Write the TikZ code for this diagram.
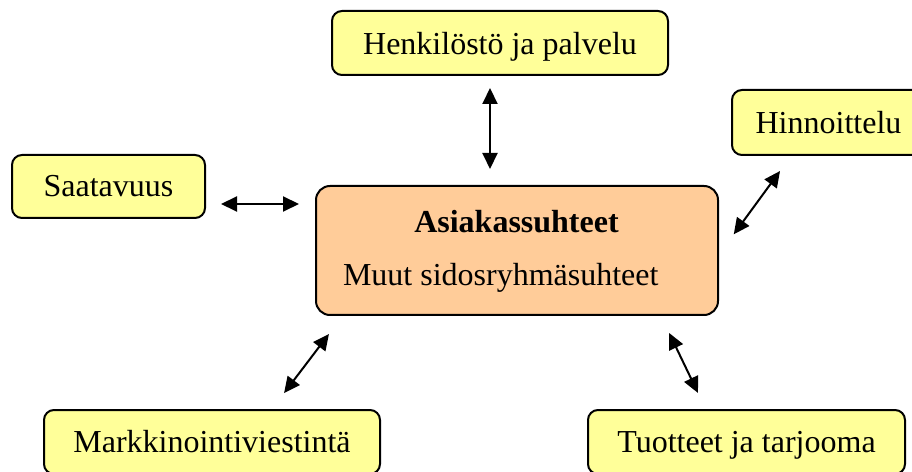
\documentclass[tikz,border=0pt]{standalone}
\usepackage{fontspec}
\setmainfont{Liberation Serif}
\usetikzlibrary{arrows.meta,calc}
\definecolor{gelb}{RGB}{255,255,153}
\definecolor{pfir}{RGB}{255,204,153}

\begin{document}
\begin{tikzpicture}[x=1pt,y=1pt,line width=2pt]
	\tikzstyle{kasti}=[draw,rounded corners=10pt,fill=gelb,inner sep=0pt,font=\fontsize{32}{38}\selectfont];
	\tikzstyle{keski}=[kasti,fill=pfir,rounded corners=14pt];
	\tikzstyle{teksti}=[inner sep=0pt,font=\fontsize{32}{38}\selectfont];
	\tikzstyle{nuoli}=[{Triangle[length=16pt,width=15pt]}-{Triangle[length=16pt,width=15pt]}];
%<--------------------------------------------------------------------------->%

	\useasboundingbox (0,0) rectangle (912,471);
	\clip (0,0) rectangle (912,471);
	%% Boxes
	\node[keski,minimum width=402pt,minimum height=129pt] (asiakas) at (517,220.5) {};
	\node[teksti,anchor=base,font=\fontsize{32}{38}\selectfont\bfseries] (asiakasA) at (516.5,238) {Asiakassuhteet};
	\node[teksti,anchor=base west] (asiakasB) at (342,185) {Muut sidosryhmäsuhteet};
	\node[kasti,minimum width=336pt,minimum height=64pt,text depth=0pt,inner xsep=0pt] (henk) at (500,428) {Henkilöstö ja palvelu\hspace{13pt}};
	\node[kasti,minimum width=193pt,minimum height=65pt] (hinn) at (828.5,348.5) {Hinnoittelu};
	\node[kasti,minimum width=193pt,minimum height=63pt] (saat) at (108.5,284.5) {Saatavuus};
	\node[kasti,minimum width=336pt,minimum height=64pt] (mark) at (212,29) {Markkinointiviestintä};
	\node[kasti,minimum width=317pt,minimum height=64pt,text depth=0pt] (tuot) at (746.5,29) {Tuotteet ja tarjooma};
	%% Arrows
	\coordinate (h1) at ([xshift=-10pt]henk.south);
	\coordinate (s1) at ([yshift=-17.5pt]saat.east);
	\draw[nuoli,shorten <=12pt,shorten >=16pt] (h1) -- (h1 |- asiakas.north);
	\draw[nuoli,shorten <=15pt,shorten >=16pt] (s1) -- (s1 -| asiakas.west);
	\draw[nuoli,shorten <=18.6pt,shorten >=25pt] ([xshift=-37.5pt]hinn.south) -- ([yshift=-4pt]asiakas.east);
	\draw[nuoli,shorten <=22.6pt,shorten >=20pt] ([xshift=27.6pt]asiakas.south west) -- ([xshift=60pt]mark.north);
	\draw[nuoli,shorten <=18.9pt,shorten >=17.8pt] ([xshift=-58pt]asiakas.south east) -- ([xshift=-40.8pt]tuot.north);
\end{tikzpicture}
\end{document}
